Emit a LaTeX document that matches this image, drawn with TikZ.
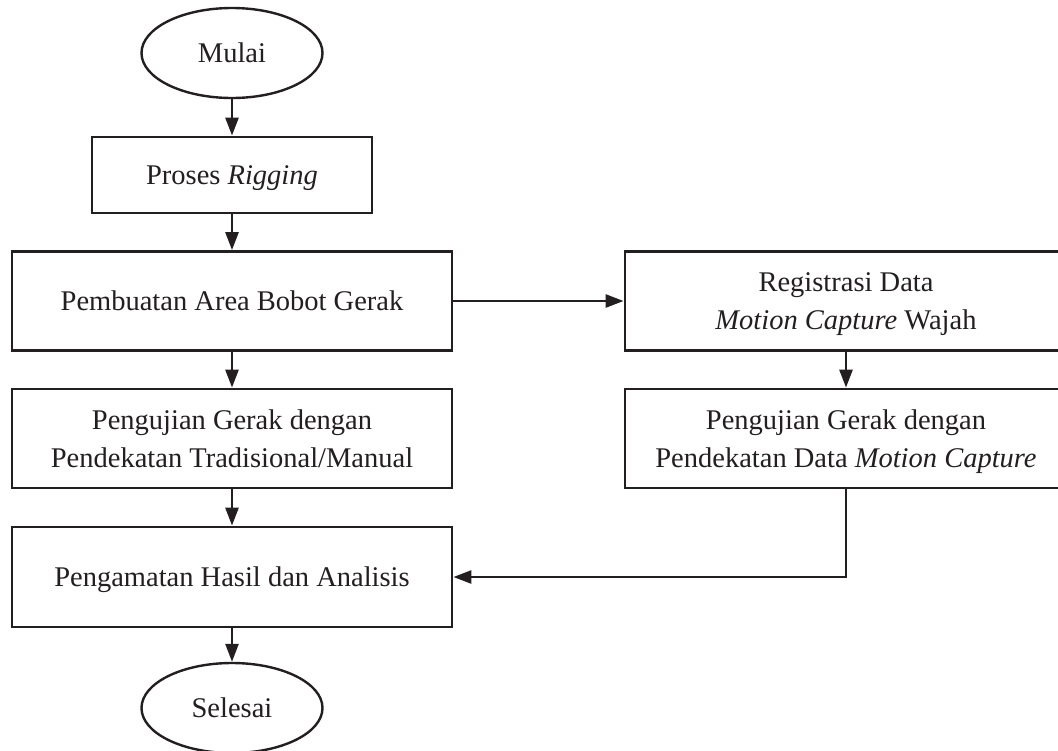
\documentclass[tikz,border=0pt]{standalone}
\usepackage{fontspec}
\setmainfont{Liberation Serif}
\usetikzlibrary{shapes.geometric,arrows.meta}
\definecolor{ink}{HTML}{231F20}
\begin{document}
\begin{tikzpicture}[x=1pt,y=-1pt,
  every node/.style={text=ink},
  txt/.style={font=\fontsize{28.5}{38.5}\selectfont},
  box/.style={txt, draw=ink, line width=2.8pt, minimum width=440pt, minimum height=99pt, align=center, inner sep=0pt, text depth=0pt},
  term/.style={txt, draw=ink, ellipse, line width=2.4pt, inner sep=0pt, minimum width=181pt, minimum height=90pt, text depth=0pt},
  arr/.style={draw=ink, line width=2.6pt, -{Triangle[length=18pt,width=13pt]}}]
\fill[white] (0,0) rectangle (1058,750);
\useasboundingbox (0,0) rectangle (1058,750);
\clip (0,0) rectangle (1058,750);
\node[term] (mulai) at (232,53) {Mulai};
\node[box, minimum width=280pt, minimum height=76pt] (rig) at (232,175) {Proses \textit{Rigging}};
\node[box] (pemb) at (232,301) {Pembuatan Area Bobot Gerak};
\node[box] (trad) at (232,438.5) {Pengujian Gerak dengan\\Pendekatan Tradisional/Manual};
\node[box, minimum height=100pt] (amat) at (232,577) {Pengamatan Hasil dan Analisis};
\node[term] (sel) at (232,708) {Selesai};
\node[box, minimum width=442pt] (reg) at (846,301) {Registrasi Data\\\textit{Motion Capture} Wajah};
\node[box, minimum width=442pt] (pmc) at (846,438.5) {Pengujian Gerak dengan\\Pendekatan Data \textit{Motion Capture}};
\draw[arr] (mulai.south) -- (rig.north);
\draw[arr] (rig.south) -- (pemb.north);
\draw[arr] (pemb.south) -- (trad.north);
\draw[arr] (trad.south) -- (amat.north);
\draw[arr] (amat.south) -- (sel.north);
\draw[arr] (pemb.east) -- (reg.west);
\draw[arr] (reg.south) -- (pmc.north);
\draw[arr] (pmc.south) |- (amat.east);
\end{tikzpicture}
\end{document}
